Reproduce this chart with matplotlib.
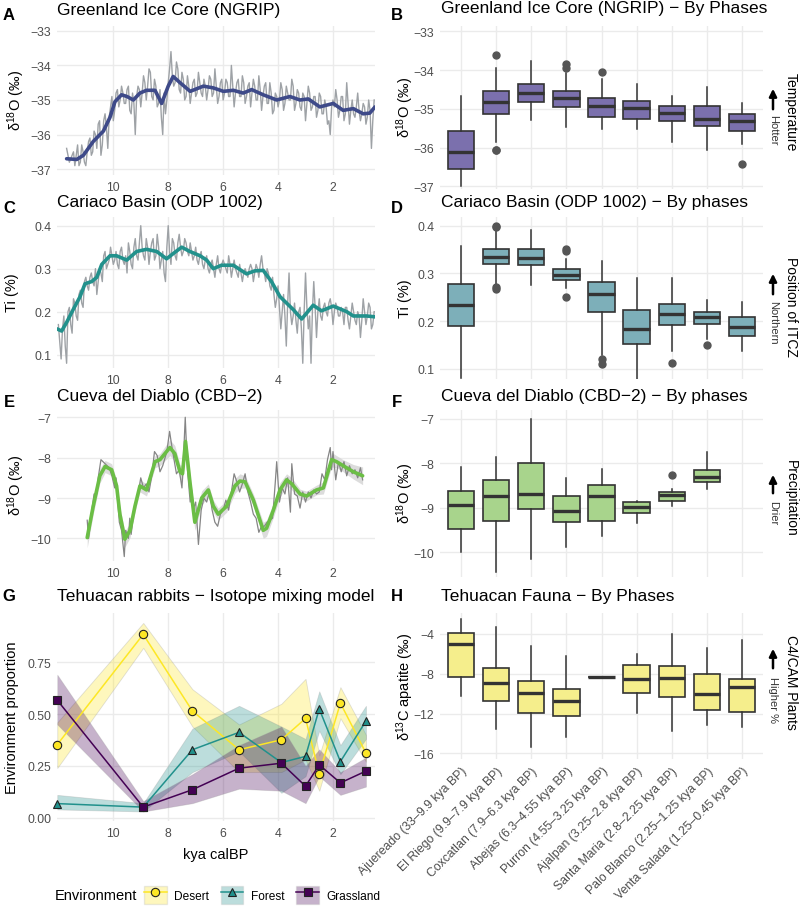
import numpy as np
import matplotlib
matplotlib.use("Agg")
import matplotlib.pyplot as plt
from matplotlib.patches import Patch
from matplotlib.lines import Line2D
from matplotlib.legend_handler import HandlerTuple

plt.rcParams['font.family'] = ['Liberation Sans', 'DejaVu Sans']
plt.rcParams['mathtext.fontset'] = 'custom'
plt.rcParams['mathtext.rm'] = 'Liberation Sans'
plt.rcParams['mathtext.default'] = 'regular'

W, H = 800, 912

# ---------------- data ----------------
phases = ["Ajuereado (33–9.9 kya BP)", "El Riego (9.9–7.9 kya BP)", "Coxcatlan (7.9–6.3 kya BP)",
          "Abejas (6.3–4.55 kya BP)", "Purron (4.55–3.25 kya BP)", "Ajalpan (3.25–2.8 kya BP)",
          "Santa Maria (2.8–2.25 kya BP)", "Palo Blanco (2.25–1.25 kya BP)", "Venta Salada (1.25–0.45 kya BP)"]

# NGRIP raw record, 11.7 -> 0.5 kya every 0.1 kya
ngrip_raw = [-36.4, -36.8, -36.6, -36.9, -36.3, -36.8, -36.5, -36.9,
             -36.2, -36.6, -35.9, -36.4, -35.6, -36.3, -35.4, -36.4, -35.2, -35.6,
             -34.8, -35.2, -34.6, -35.1, -34.7, -35.3, -34.8, -36.0, -34.6, -35.2,
             -34.3, -35.0, -34.1, -34.9, -34.4, -35.2, -34.7, -36.0, -35.4, -34.5,
             -33.6, -34.6, -33.9, -34.7, -34.2, -35.0, -34.3, -35.1, -34.5, -34.9,
             -34.2, -34.8, -34.4, -35.0, -34.3, -34.9, -34.1, -35.1, -34.5, -35.0,
             -34.4, -34.9, -34.0, -35.2, -34.5, -34.9, -34.3, -35.1, -34.6, -35.2,
             -34.4, -35.0, -34.3, -35.3, -34.6, -35.1, -34.5, -35.4, -34.8, -35.2,
             -34.5, -35.3, -34.6, -35.0, -34.4, -35.3, -34.7, -35.2, -34.8, -35.6,
             -34.6, -35.3, -34.9, -35.5, -34.8, -35.4, -35.0, -35.7, -36.0, -35.0,
             -34.7, -35.5, -34.9, -35.6, -34.5, -35.7, -35.0, -35.5, -34.8, -35.6,
             -35.1, -35.7, -35.0, -36.4, -35.0]
# the samples in between, 11.65 -> 0.55 kya
ngrip_mid = [-36.6, -36.7, -36.5, -36.6, -36.9, -36.3, -36.8,
             -36.5, -36.1, -36.5, -36.0, -35.7, -36.6, -35.6, -35.8, -35.5, -34.9,
             -35.3, -34.7, -35.0, -34.8, -35.1, -34.6, -35.4, -35.1, -34.9, -34.7,
             -34.8, -34.5, -34.6, -34.2, -35.0, -34.6, -35.1, -35.5, -34.8, -35.0,
             -34.1, -34.3, -34.5, -34.1, -34.8, -34.4, -34.9, -34.6, -34.8, -34.4,
             -34.8, -34.5, -34.9, -34.6, -34.7, -34.4, -34.8, -34.6, -34.9, -34.4,
             -34.8, -34.5, -34.9, -34.6, -34.8, -34.4, -34.9, -34.5, -34.9, -34.5,
             -34.8, -34.6, -35.0, -34.7, -34.9, -34.5, -35.1, -34.8, -35.3, -34.9,
             -35.0, -34.7, -35.1, -34.8, -35.0, -34.6, -35.1, -34.8, -35.3, -34.9,
             -35.1, -34.8, -35.2, -34.9, -35.3, -34.9, -35.4, -35.2, -35.6, -35.2,
             -35.2, -35.0, -35.3, -34.9, -35.4, -35.1, -35.3, -35.4, -35.2, -35.3,
             -35.4, -35.2, -35.5, -35.3, -35.6]
ngrip_smooth_age = [11.70, 11.33, 11.09, 10.73, 10.36, 10.12, 9.94, 9.70, 9.50, 9.27,
                    9.03, 8.79, 8.48, 8.24, 8.00, 7.82, 7.57, 7.20, 6.72, 6.36,
                    5.99, 5.63, 5.27, 4.96, 4.54, 4.05, 3.57, 3.20, 2.90, 2.48,
                    1.99, 1.63, 1.26, 0.90, 0.66, 0.47]
ngrip_smooth = [-36.70, -36.72, -36.60, -36.20, -35.90, -35.50, -35.05, -34.85, -34.90, -35.00,
                -34.80, -34.72, -34.72, -35.10, -34.60, -34.32, -34.50, -34.75, -34.60, -34.65,
                -34.75, -34.72, -34.80, -34.70, -34.85, -35.00, -34.90, -35.00, -34.97, -35.20,
                -35.10, -35.30, -35.25, -35.40, -35.38, -35.20]

# Cariaco Ti raw, 12.0 -> 0.5 kya every 0.1 kya
cariaco_raw = [0.17, 0.09, 0.19, 0.08, 0.21, 0.15, 0.22, 0.18, 0.25, 0.21,
               0.28, 0.25, 0.29, 0.26, 0.24, 0.30, 0.27, 0.34, 0.31, 0.35,
               0.31, 0.34, 0.30, 0.35, 0.31, 0.29, 0.34, 0.30, 0.37, 0.32,
               0.40, 0.33, 0.37, 0.31, 0.36, 0.32, 0.38, 0.30, 0.34, 0.27,
               0.40, 0.31, 0.36, 0.32, 0.38, 0.33, 0.37, 0.34, 0.36, 0.32,
               0.35, 0.31, 0.34, 0.30, 0.33, 0.29, 0.32, 0.28, 0.33, 0.29,
               0.32, 0.30, 0.33, 0.28, 0.32, 0.29, 0.31, 0.27, 0.30, 0.28,
               0.31, 0.27, 0.31, 0.28, 0.33, 0.29, 0.30, 0.26, 0.28, 0.21,
               0.26, 0.16, 0.24, 0.12, 0.29, 0.17, 0.22, 0.15, 0.21, 0.08,
               0.29, 0.16, 0.08, 0.27, 0.14, 0.23, 0.18, 0.22, 0.19, 0.23,
               0.17, 0.22, 0.19, 0.21, 0.17, 0.21, 0.16, 0.22, 0.18, 0.20,
               0.14, 0.23, 0.17, 0.22, 0.16, 0.20]
# the samples in between, 11.95 -> 0.55 kya
cariaco_mid = [0.13, 0.16, 0.12, 0.20, 0.17, 0.23, 0.19, 0.24, 0.22, 0.27,
               0.26, 0.28, 0.27, 0.30, 0.27, 0.29, 0.33, 0.30, 0.32, 0.33,
               0.32, 0.31, 0.34, 0.32, 0.33, 0.36, 0.31, 0.35, 0.33, 0.36,
               0.35, 0.32, 0.35, 0.34, 0.37, 0.33, 0.35, 0.32, 0.29, 0.35,
               0.34, 0.37, 0.33, 0.36, 0.35, 0.34, 0.36, 0.33, 0.34, 0.33,
               0.32, 0.33, 0.31, 0.32, 0.30, 0.31, 0.30, 0.31, 0.30, 0.31,
               0.31, 0.29, 0.31, 0.30, 0.30, 0.28, 0.29, 0.29, 0.29, 0.30,
               0.30, 0.29, 0.30, 0.31, 0.30, 0.27, 0.29, 0.25, 0.24, 0.23,
               0.21, 0.20, 0.19, 0.22, 0.20, 0.19, 0.18, 0.20, 0.16, 0.20,
               0.21, 0.19, 0.20, 0.21, 0.20, 0.19, 0.21, 0.20, 0.22, 0.21,
               0.20, 0.21, 0.19, 0.20, 0.21, 0.18, 0.19, 0.20, 0.17, 0.19,
               0.18, 0.20, 0.19, 0.21, 0.17]
cariaco_smooth_age = [12.05, 11.88, 11.70, 11.46, 11.21, 11.03, 10.79, 10.60, 10.42, 10.12,
                      9.88, 9.51, 9.15, 8.79, 8.42, 8.06, 7.82, 7.51, 7.21, 6.84,
                      6.60, 6.36, 6.06, 5.63, 5.15, 4.84, 4.54, 4.24, 3.93, 3.45,
                      3.14, 2.72, 2.42, 1.99, 1.50, 1.26, 0.78, 0.47]
cariaco_smooth = [0.160, 0.155, 0.175, 0.205, 0.235, 0.265, 0.270, 0.280, 0.310, 0.330,
                  0.330, 0.320, 0.340, 0.345, 0.340, 0.323, 0.335, 0.350, 0.340, 0.330,
                  0.320, 0.300, 0.308, 0.308, 0.288, 0.295, 0.296, 0.270, 0.235, 0.205,
                  0.183, 0.215, 0.202, 0.213, 0.200, 0.190, 0.190, 0.188]

# Cueva del Diablo
cbd_raw_age = [10.95, 10.9, 10.8, 10.7, 10.6, 10.55, 10.45, 10.3, 10.15, 10.05,
               9.95, 9.9, 9.85, 9.78, 9.7, 9.6, 9.55, 9.45, 9.4, 9.35,
               9.25, 9.1, 9.0, 8.9, 8.8, 8.7, 8.6, 8.5, 8.4, 8.3,
               8.2, 8.05, 7.95, 7.85, 7.7, 7.6, 7.5, 7.45, 7.38, 7.3,
               7.2, 7.15, 7.1, 7.0, 6.9, 6.8, 6.7, 6.6, 6.5, 6.4,
               6.3, 6.2, 6.1, 6.0, 5.9, 5.8, 5.7, 5.6, 5.5, 5.4,
               5.3, 5.2, 5.1, 5.0, 4.9, 4.8, 4.7, 4.6, 4.5, 4.4,
               4.2, 4.1, 4.05, 3.95, 3.85, 3.75, 3.65, 3.55, 3.5, 3.4,
               3.3, 3.2, 3.1, 3.0, 2.9, 2.8, 2.7, 2.6, 2.5, 2.4,
               2.3, 2.2, 2.1, 2.05, 2.0, 1.9, 1.8, 1.7, 1.6, 1.5,
               1.4, 1.3, 1.2, 1.1, 1.0, 0.92]
cbd_raw = [-9.55, -10.0, -9.4, -8.9, -8.9, -8.5, -8.05, -8.15, -8.25, -8.45,
           -8.75, -8.5, -9.0, -9.6, -9.8, -10.45, -9.8, -10.0, -9.5, -9.9,
           -9.3, -8.9, -8.5, -8.75, -8.65, -8.85, -8.45, -7.85, -7.95, -8.35,
           -8.2, -7.85, -7.35, -7.8, -8.4, -8.3, -8.75, -8.1, -7.0, -8.3,
           -9.1, -8.8, -9.3, -9.1, -10.15, -9.3, -9.0, -9.1, -8.85, -9.3,
           -9.6, -9.7, -9.4, -9.3, -9.05, -9.3, -8.85, -8.4, -8.6, -8.85,
           -8.65, -8.4, -8.85, -9.1, -9.4, -9.5, -9.85, -9.7, -9.7, -9.6,
           -9.5, -8.6, -8.1, -9.1, -8.75, -8.9, -8.5, -9.35, -8.15, -8.9,
           -8.95, -9.25, -8.85, -9.1, -8.85, -9.0, -8.8, -8.9, -8.85, -8.4,
           -8.55, -8.05, -7.75, -8.3, -7.85, -8.55, -8.1, -8.35, -8.1, -8.45,
           -8.2, -8.4, -8.3, -8.5, -8.25, -8.55]
cbd_smooth_age = [10.95, 10.73, 10.49, 10.30, 10.06, 9.88, 9.76, 9.58, 9.39, 9.21,
                  9.03, 8.79, 8.48, 8.30, 7.94, 7.76, 7.57, 7.48, 7.37, 7.21,
                  7.03, 6.78, 6.54, 6.36, 6.18, 5.87, 5.57, 5.39, 5.20, 4.90,
                  4.54, 4.42, 4.17, 3.93, 3.69, 3.50, 3.20, 2.96, 2.60, 2.35,
                  2.05, 1.87, 1.63, 1.26, 0.92]
cbd_smooth = [-9.98, -9.2, -8.45, -8.22, -8.3, -8.7, -9.4, -10.02, -9.8, -9.2,
              -8.7, -8.8, -8.1, -8.05, -7.75, -7.9, -8.35, -8.4, -7.6, -8.6,
              -9.6, -9.0, -8.8, -9.2, -9.4, -9.2, -8.7, -8.58, -8.6, -9.05,
              -9.8, -9.75, -9.3, -8.8, -8.55, -8.65, -8.9, -8.95, -8.8, -8.75,
              -8.05, -8.1, -8.2, -8.35, -8.45]
cbd_se = [0.25, 0.2, 0.18, 0.15, 0.15, 0.15, 0.18, 0.2, 0.18, 0.15,
          0.15, 0.15, 0.15, 0.15, 0.2, 0.2, 0.18, 0.2, 0.2, 0.2,
          0.2, 0.18, 0.15, 0.15, 0.15, 0.15, 0.18, 0.18, 0.15, 0.15,
          0.2, 0.2, 0.18, 0.18, 0.15, 0.15, 0.12, 0.12, 0.12, 0.15,
          0.18, 0.15, 0.15, 0.18, 0.22]

# Rabbit mixing model
mix_age = [12.04, 8.91, 7.12, 5.42, 3.88, 3.0, 2.5, 1.73, 0.80]
desert = [0.353, 0.885, 0.515, 0.328, 0.376, 0.479, 0.212, 0.553, 0.312]
desert_lo = [0.24, 0.82, 0.44, 0.22, 0.22, 0.28, 0.13, 0.48, 0.27]
desert_hi = [0.46, 0.94, 0.62, 0.45, 0.55, 0.67, 0.30, 0.63, 0.40]
forest = [0.068, 0.051, 0.328, 0.412, 0.266, 0.296, 0.525, 0.271, 0.466]
forest_lo = [0.04, 0.03, 0.22, 0.32, 0.12, 0.20, 0.42, 0.21, 0.38]
forest_hi = [0.11, 0.07, 0.43, 0.54, 0.44, 0.38, 0.61, 0.35, 0.54]
grass = [0.567, 0.051, 0.135, 0.239, 0.263, 0.152, 0.255, 0.168, 0.225]
grass_lo = [0.45, 0.03, 0.07, 0.14, 0.13, 0.07, 0.20, 0.11, 0.15]
grass_hi = [0.69, 0.08, 0.21, 0.35, 0.44, 0.25, 0.33, 0.22, 0.29]

# boxplot summaries per phase: whisker low, q1, median, q3, whisker high, outliers
ngrip_lo = [-37.0, -35.86, -35.28, -35.48, -35.52, -35.53, -35.85, -36.07, -35.92]
ngrip_q1 = [-36.56, -35.12, -34.83, -34.95, -35.20, -35.25, -35.32, -35.45, -35.57]
ngrip_med = [-36.12, -34.83, -34.58, -34.73, -34.92, -34.98, -35.10, -35.27, -35.32]
ngrip_q3 = [-35.58, -34.55, -34.35, -34.53, -34.73, -34.80, -34.92, -34.93, -35.13]
ngrip_hi = [-34.66, -33.95, -33.76, -34.08, -34.22, -34.37, -34.67, -34.43, -34.86]
ngrip_out = [[], [-33.6, -36.05, -36.07], [], [-33.85, -33.95], [-34.05], [], [], [], [-36.43]]

ti_lo = [0.082, 0.278, 0.276, 0.27, 0.13, 0.08, 0.137, 0.163, 0.137]
ti_q1 = [0.190, 0.320, 0.317, 0.286, 0.220, 0.152, 0.192, 0.194, 0.169]
ti_med = [0.234, 0.334, 0.333, 0.297, 0.257, 0.183, 0.214, 0.208, 0.187]
ti_q3 = [0.278, 0.350, 0.350, 0.310, 0.283, 0.223, 0.236, 0.220, 0.209]
ti_hi = [0.358, 0.390, 0.390, 0.330, 0.326, 0.290, 0.290, 0.245, 0.240]
ti_out = [[], [0.400, 0.397, 0.272, 0.267], [], [0.350, 0.346, 0.250], [0.120, 0.110], [], [0.113], [0.150], []]

cbd_lo = [-10.0, -10.45, -10.15, -9.88, -9.63, -9.34, -8.96, -8.57]
cbd_q1 = [-9.48, -9.30, -9.02, -9.33, -9.30, -9.12, -8.85, -8.43]
cbd_med = [-8.93, -8.73, -8.70, -9.07, -8.73, -8.98, -8.72, -8.30]
cbd_q3 = [-8.63, -8.37, -8.00, -8.74, -8.48, -8.88, -8.65, -8.15]
cbd_hi = [-8.08, -7.85, -7.00, -8.34, -8.13, -8.85, -8.57, -7.75]
cbd_out = [[], [], [], [], [], [], [-8.26], []]

fauna_lo = [-10.2, -13.5, -15.4, -14.3, -8.3, -11.9, -13.7, -13.1, -13.3]
fauna_q1 = [-8.3, -10.7, -11.9, -12.2, -8.3, -9.9, -10.3, -11.6, -11.8]
fauna_med = [-5.0, -8.9, -9.9, -10.7, -8.3, -8.5, -8.4, -10.0, -9.3]
fauna_q3 = [-3.9, -7.4, -8.7, -9.5, -8.3, -7.1, -7.2, -8.0, -8.5]
fauna_hi = [-2.5, -3.3, -5.2, -6.2, -8.3, -6.0, -4.0, -5.4, -4.6]

time_ticks = [10, 8, 6, 4, 2]


# ---------------- helpers ----------------
def px_axes(x0, y0, x1, y1):
    return fig.add_axes([x0 / W, 1 - y1 / H, (x1 - x0) / W, (y1 - y0) / H])


def style(ax):
    for s in ax.spines.values():
        s.set_visible(False)
    ax.grid(True, color='#EBEBEB', linewidth=1.0)
    ax.set_axisbelow(True)
    ax.tick_params(length=0, pad=4, labelsize=8.8, labelcolor='#4D4D4D')


def time_axis(ax):
    style(ax)
    ax.set_xlim(12.05, 0.47)
    ax.set_xticks(time_ticks)
    ax.set_xticklabels([str(t) for t in time_ticks])


def merge(age_a, vals_a, age_b, vals_b):
    # put the two sample sets in age order
    age = np.concatenate([age_a, age_b])
    vals = np.concatenate([vals_a, vals_b])
    order = np.argsort(age)[::-1]
    return age[order], vals[order]


def box_axis(ax, lo, q1, med, q3, hi, out, color, labels=False):
    style(ax)
    stats = []
    for i in range(len(med)):
        stats.append(dict(whislo=lo[i], q1=q1[i], med=med[i], q3=q3[i], whishi=hi[i],
                          fliers=out[i] if out else []))
    ax.bxp(stats, positions=range(1, len(med) + 1), widths=0.75, patch_artist=True,
           showcaps=False,
           boxprops=dict(facecolor=color, edgecolor='#333333', linewidth=1.2),
           medianprops=dict(color='#333333', linewidth=2.4),
           whiskerprops=dict(color='#333333', linewidth=1.1),
           flierprops=dict(marker='o', markerfacecolor='#555555', markeredgecolor='#555555',
                           markersize=5))
    ax.set_xlim(0.4, 9.6)
    ax.set_xticks(range(1, 10))
    if labels:
        ax.set_xticklabels(phases, rotation=45, ha='right', rotation_mode='anchor')
    else:
        ax.set_xticklabels([])


def ftext(x, y, s, **kw):
    fig.text(x / W, 1 - y / H, s, **kw)


def side_note(ymain, label, arrow_top, arrow_bot, sub, ysub):
    ftext(791, ymain, label, rotation=270, ha='center', va='center', fontsize=10)
    ax_a.annotate('', xy=(773, H - arrow_top), xytext=(773, H - arrow_bot),
                  xycoords='figure pixels', textcoords='figure pixels',
                  arrowprops=dict(arrowstyle='-|>', color='black', lw=1.8, mutation_scale=11))
    ftext(773, ysub, sub, rotation=270, ha='center', va='center', fontsize=8, color='#333333')


fig = plt.figure(figsize=(W / 100, H / 100), dpi=100)

# A
ax_a = px_axes(57, 27, 375, 176)
time_axis(ax_a)
ng_age, ng_val = merge(np.linspace(11.7, 0.5, len(ngrip_raw)), ngrip_raw,
                       np.linspace(11.65, 0.55, len(ngrip_mid)), ngrip_mid)
ax_a.plot(ng_age, ng_val, color='#9EA2A6', lw=1.0)
ax_a.plot(ngrip_smooth_age, ngrip_smooth, color='#3E4A89', lw=2.6, solid_capstyle='round')
ax_a.set_ylim(-37.17, -32.86)
ax_a.set_yticks([-33, -34, -35, -36, -37])
ax_a.set_yticklabels(['−33', '−34', '−35', '−36', '−37'])

# B
ax_b = px_axes(440, 27, 763, 190)
box_axis(ax_b, ngrip_lo, ngrip_q1, ngrip_med, ngrip_q3, ngrip_hi, ngrip_out, '#7B70AD')
ax_b.set_ylim(-37.07, -32.86)
ax_b.set_yticks([-33, -34, -35, -36, -37])
ax_b.set_yticklabels(['−33', '−34', '−35', '−36', '−37'])

# C
ax_c = px_axes(57, 218, 375, 369)
time_axis(ax_c)
ca_age, ca_val = merge(np.linspace(12.0, 0.5, len(cariaco_raw)), cariaco_raw,
                       np.linspace(11.95, 0.55, len(cariaco_mid)), cariaco_mid)
ax_c.plot(ca_age, ca_val, color='#9EA2A6', lw=1.0)
ax_c.plot(cariaco_smooth_age, cariaco_smooth, color='#22918C', lw=2.6, solid_capstyle='round')
ax_c.set_ylim(0.069, 0.4202)
ax_c.set_yticks([0.1, 0.2, 0.3, 0.4])
ax_c.set_yticklabels(['0.1', '0.2', '0.3', '0.4'])

# D
ax_d = px_axes(440, 218, 763, 380)
box_axis(ax_d, ti_lo, ti_q1, ti_med, ti_q3, ti_hi, ti_out, '#7DAFB9')
ax_d.set_ylim(0.079, 0.418)
ax_d.set_yticks([0.1, 0.2, 0.3, 0.4])
ax_d.set_yticklabels(['0.1', '0.2', '0.3', '0.4'])

# E
ax_e = px_axes(57, 411, 375, 562)
time_axis(ax_e)
lo = np.array(cbd_smooth) - np.array(cbd_se)
hi = np.array(cbd_smooth) + np.array(cbd_se)
ax_e.fill_between(cbd_smooth_age, lo, hi, color='#D4D4D4', alpha=0.8, lw=0)
ax_e.plot(cbd_raw_age, cbd_raw, color='#858585', lw=0.9)
ax_e.plot(cbd_smooth_age, cbd_smooth, color='#6BBE45', lw=2.6, solid_capstyle='round')
ax_e.set_ylim(-10.56, -6.82)
ax_e.set_yticks([-7, -8, -9, -10])
ax_e.set_yticklabels(['−7', '−8', '−9', '−10'])

# F
ax_f = px_axes(440, 411, 763, 578)
box_axis(ax_f, cbd_lo, cbd_q1, cbd_med, cbd_q3, cbd_hi, cbd_out, '#A8D48C')
ax_f.set_ylim(-10.56, -6.80)
ax_f.set_yticks([-7, -8, -9, -10])
ax_f.set_yticklabels(['−7', '−8', '−9', '−10'])

# G
ax_g = px_axes(57, 614, 375, 822)
time_axis(ax_g)
envs = [("Desert", desert, desert_lo, desert_hi, '#FDE725', 'o'),
        ("Forest", forest, forest_lo, forest_hi, '#21918C', '^'),
        ("Grassland", grass, grass_lo, grass_hi, '#440154', 's')]
for name, v, l, h, c, m in envs:
    ax_g.fill_between(mix_age, l, h, facecolor=c, alpha=0.3, edgecolor='#9A9A9A', lw=0.6)
handles = []
for name, v, l, h, c, m in envs:
    ax_g.plot(mix_age, v, color=c, lw=1.1, marker=m, markersize=6, markerfacecolor=c,
              markeredgecolor='#222222', markeredgewidth=0.8, clip_on=False, zorder=4)
    handles.append((Patch(facecolor=c, alpha=0.3, edgecolor='#BBBBBB'),
                    Line2D([], [], color=c, lw=1.1, marker=m, markersize=6,
                           markerfacecolor=c, markeredgecolor='#222222', markeredgewidth=0.8)))
ax_g.set_ylim(-0.016, 0.988)
ax_g.set_yticks([0, 0.25, 0.5, 0.75])
ax_g.set_yticklabels(['0.00', '0.25', '0.50', '0.75'])

# H
ax_h = px_axes(440, 614, 763, 760)
box_axis(ax_h, fauna_lo, fauna_q1, fauna_med, fauna_q3, fauna_hi, None, '#F5EE8C', labels=True)
ax_h.set_ylim(-16.56, -1.89)
ax_h.set_yticks([-4, -8, -12, -16])
ax_h.set_yticklabels(['−4', '−8', '−12', '−16'])

# titles and letters
title_kw = dict(fontsize=12.5, va='center', ha='left')
ftext(57, 10, "Greenland Ice Core (NGRIP)", **title_kw)
ftext(441, 9, "Greenland Ice Core (NGRIP) − By Phases", **title_kw)
ftext(57, 203, "Cariaco Basin (ODP 1002)", **title_kw)
ftext(441, 202, "Cariaco Basin (ODP 1002) − By phases", **title_kw)
ftext(57, 397, "Cueva del Diablo (CBD−2)", **title_kw)
ftext(441, 396, "Cueva del Diablo (CBD−2) − By phases", **title_kw)
ftext(57, 597, "Tehuacan rabbits − Isotope mixing model", **title_kw)
ftext(441, 597, "Tehuacan Fauna − By Phases", **title_kw)

letters = [("A", 9, 15), ("B", 397, 15), ("C", 9, 209), ("D", 397, 209),
           ("E", 9, 403), ("F", 397, 403), ("G", 9, 597), ("H", 397, 597)]
for s, x, y in letters:
    ftext(x, y, s, fontsize=12, fontweight='bold', ha='center', va='center')

# axis labels
lab_kw = dict(fontsize=10.5, rotation=90, ha='center', va='center')
ftext(16, 101, "δ$^{18}$O (‰)", **lab_kw)
ftext(405, 108, "δ$^{18}$O (‰)", **lab_kw)
ftext(12, 293, "Ti (%)", **lab_kw)
ftext(405, 299, "Ti (%)", **lab_kw)
ftext(16, 486, "δ$^{18}$O (‰)", **lab_kw)
ftext(405, 494, "δ$^{18}$O (‰)", **lab_kw)
ftext(12, 718, "Environment proportion", **lab_kw)
ftext(405, 687, "δ$^{13}$C apatite (‰)", **lab_kw)
ftext(216, 855, "kya calBP", fontsize=10.5, ha='center', va='center')

# right-hand notes
side_note(112, "Temperature", 87, 113, "Hotter", 130)
side_note(307, "Position of ITCZ", 272, 298, "Northern", 323)
side_note(498, "Precipitation", 473, 497, "Drier", 513)
side_note(682, "C4/CAM Plants", 647, 672, "Higher %", 700)

# legend
ftext(55, 896, "Environment", fontsize=10.5, ha='left', va='center')
fig.legend(handles, ["Desert", "Forest", "Grassland"], loc='center',
           bbox_to_anchor=(262 / W, 1 - 896 / H), ncol=3, frameon=False, fontsize=8.6,
           handlelength=1.9, handleheight=1.9, handletextpad=0.6, columnspacing=1.0,
           handler_map={tuple: HandlerTuple(ndivide=1)})

fig.savefig("out.png", dpi=100)
